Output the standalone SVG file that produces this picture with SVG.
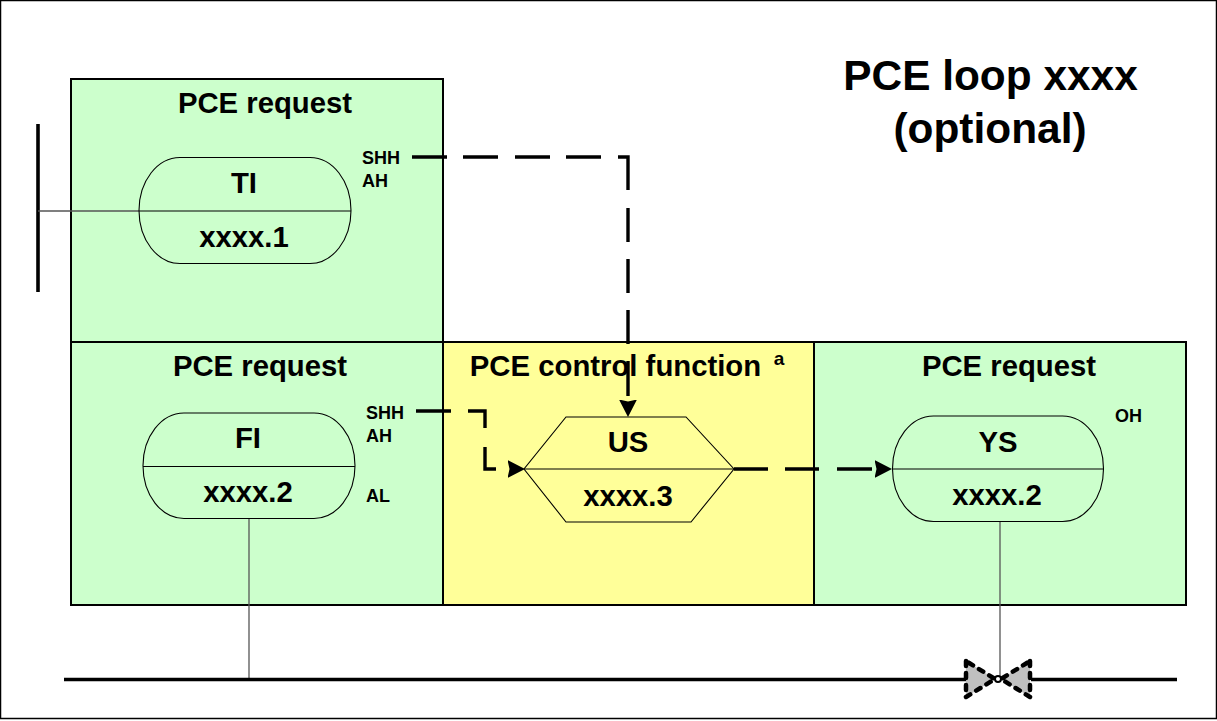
<svg xmlns="http://www.w3.org/2000/svg" width="1217" height="721" viewBox="0 0 1217 721">
<style>
text{font-family:"Liberation Sans",Arial,sans-serif;font-weight:bold;fill:#000;text-anchor:middle}
.t{font-size:29.3px}.s{font-size:18px;text-anchor:start}.h{font-size:42.400px}
.box{stroke:#000;stroke-width:2}
.g{fill:#ccffcc}.y{fill:#ffff99}
.sym{fill:none;stroke:#000;stroke-width:1.1}
.thin{fill:none;stroke:#555;stroke-width:1.3}
.pipe{fill:none;stroke:#000;stroke-width:3.6}
.dash{fill:none;stroke:#000;stroke-width:3.4}
</style>
<defs><marker id="a" markerUnits="userSpaceOnUse" markerWidth="18" markerHeight="19" refX="17.500" refY="9.500" orient="auto"><path d="M0 0.500L17.500 9.500L0 18.500L2 9.500Z" fill="#000"/></marker></defs>
<rect x="0.5" y="0.5" width="1216" height="718" fill="#fff" stroke="#000" stroke-width="1.5"/>
<g id="box-ti"><rect class="box g" x="71" y="79" width="372" height="263"/><text class="t" x="265" y="113">PCE request</text></g>
<g id="box-fi"><rect class="box g" x="71" y="342" width="372" height="263"/><text class="t" x="260" y="376">PCE request</text></g>
<g id="box-us"><rect class="box y" x="443" y="342" width="371" height="263"/><text class="t" x="615.500" y="376">PCE control function</text><text x="779" y="365" style="font-size:19px">a</text></g>
<g id="box-ys"><rect class="box g" x="814" y="342" width="372" height="263"/><text class="t" x="1009" y="376">PCE request</text></g>
<g id="title"><text class="h" x="990.500" y="90">PCE loop xxxx</text><text class="h" x="990" y="143">(optional)</text></g>
<g id="connectors">
<path class="pipe" d="M38 124V292"/>
<path class="thin" d="M38 211H139"/>
<path class="thin" d="M249 518V679"/>
<path class="thin" d="M1000 521V676"/>
<path class="pipe" d="M64 679.500H966M1031 679.500H1177"/>
<path class="dash" d="M412 157H628V417" stroke-dasharray="35 16 35 17 35 16 35 17 43 18 34 17 34 17 34 17 35 30" marker-end="url(#a)"/>
<path class="dash" d="M416 411H485V469H525" stroke-dasharray="35 17 34 19 33 40" marker-end="url(#a)"/>
<path class="dash" d="M734 469H892" stroke-dasharray="34 17 34 18 35 30" marker-end="url(#a)"/>
</g>
<g id="node-ti"><rect class="sym" x="139" y="157.500" width="212" height="106" rx="41" ry="53"/><path class="sym" d="M139 211H351"/><text class="t" x="244" y="193">TI</text><text class="t" x="244" y="247">xxxx.1</text></g>
<g id="node-fi"><rect class="sym" x="143" y="413" width="212" height="105.500" rx="41" ry="53"/><path class="sym" d="M143 466.500H355"/><text class="t" x="248" y="448">FI</text><text class="t" x="248" y="502">xxxx.2</text></g>
<g id="node-us"><path class="sym" d="M566 417H686L734 469L691 522H566L524 469Z"/><path class="sym" d="M524 469H734"/><text class="t" x="628" y="452">US</text><text class="t" x="628" y="506">xxxx.3</text></g>
<g id="node-ys"><rect class="sym" x="892.500" y="416" width="211" height="105.500" rx="41" ry="53"/><path class="sym" d="M892 469H1104"/><text class="t" x="998" y="452">YS</text><text class="t" x="997" y="505">xxxx.2</text></g>
<g id="labels"><text class="s" x="362" y="164">SHH</text><text class="s" x="362" y="187">AH</text><text class="s" x="366" y="419">SHH</text><text class="s" x="366" y="442">AH</text><text class="s" x="366" y="502">AL</text><text class="s" x="1115" y="422">OH</text></g>
<g id="valve"><path d="M966 661V697L995 679ZM1030 661V697L1001 679Z" fill="#c0c0c0" stroke="#000" stroke-width="4.500" stroke-linecap="round" stroke-dasharray="5 7"/><circle cx="998" cy="679" r="3" fill="#fff" stroke="#000" stroke-width="2"/></g>
</svg>
